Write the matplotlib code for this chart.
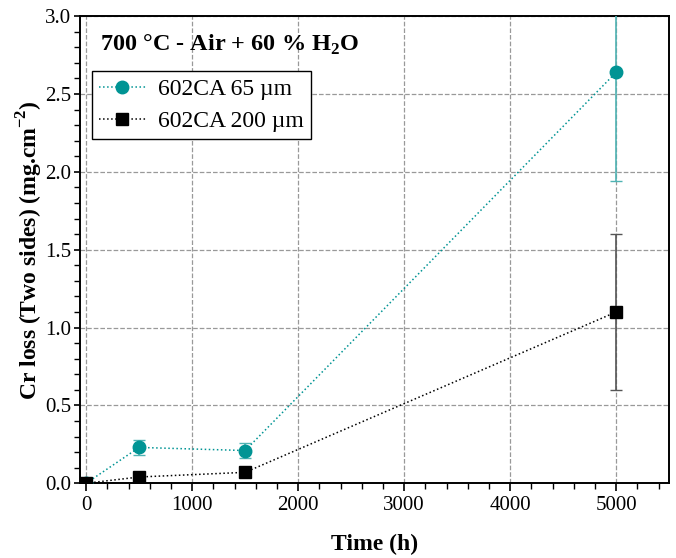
import numpy as np
from matplotlib import pyplot as plt
from matplotlib.ticker import MultipleLocator

plt.rcParams["font.family"] = ["Liberation Serif", "DejaVu Serif"]
plt.rcParams["mathtext.fontset"] = "custom"
plt.rcParams["mathtext.rm"] = "Liberation Serif"
plt.rcParams["mathtext.bf"] = "Liberation Serif:bold"

time_h = [0, 500, 1500, 5000]
loss_65 = [0.0, 0.23, 0.21, 2.64]
err_65 = [0.0, 0.05, 0.05, 0.70]
loss_200 = [0.0, 0.04, 0.07, 1.10]
err_200 = [0.0, 0.0, 0.0, 0.50]

label_65 = "602CA 65 µm"
label_200 = "602CA 200 µm"

teal = "#009494"

fig = plt.figure(figsize=(6.76, 5.58), dpi=100)
ax = fig.add_axes([0.118, 0.134, 0.872, 0.837])

c1 = ax.errorbar(time_h, loss_65, yerr=err_65, color=teal, ecolor="#4fb3b3",
                 marker="o", markersize=9, linestyle=":", linewidth=1.1,
                 elinewidth=1.2, capsize=4, zorder=3)
c2 = ax.errorbar(time_h, loss_200, yerr=err_200, color="black", ecolor="#555555",
                 marker="s", markersize=8, linestyle=":", linewidth=1.1,
                 elinewidth=1.2, capsize=4, zorder=3)

ax.set_xlim(-60, 5500)
ax.set_ylim(0, 3.0)
ax.xaxis.set_major_locator(MultipleLocator(1000))
ax.xaxis.set_minor_locator(MultipleLocator(200))
ax.yaxis.set_major_locator(MultipleLocator(0.5))
ax.yaxis.set_minor_locator(MultipleLocator(0.1))
ax.yaxis.set_major_formatter(plt.FormatStrFormatter("%.1f"))
ax.tick_params(which="major", direction="out", length=6, width=1.2,
               labelsize=15, pad=3)
ax.tick_params(axis="y", which="major", length=4.5, pad=1.5)
ax.tick_params(which="minor", direction="out", length=4, width=1.0)
for s in ax.spines.values():
    s.set_linewidth(1.4)

ax.grid(True, which="major", linestyle="--", color="#999999", linewidth=0.9)
ax.set_axisbelow(True)

ax.set_xlabel("Time (h)", fontsize=17, fontweight="bold", labelpad=14)
ax.set_ylabel(r"Cr loss (Two sides) (mg.cm$^{\mathbf{-2}}$)", fontsize=17,
              fontweight="bold", labelpad=0)

ax.text(0.034, 0.965, r"700 °C - Air + 60 % H$_\mathbf{2}$O", transform=ax.transAxes,
        fontsize=17.5, fontweight="bold", va="top", ha="left")

leg = ax.legend([c1[0], c2[0]], [label_65, label_200], loc="upper left",
                bbox_to_anchor=(0.02, 0.882), fontsize=17,
                frameon=True, fancybox=False, edgecolor="black", framealpha=1,
                handlelength=2.0, borderpad=0.3, labelspacing=0.45,
                borderaxespad=0.0, handletextpad=0.5)
leg.get_frame().set_linewidth(1.0)

fig.savefig("out.png", dpi=100)
